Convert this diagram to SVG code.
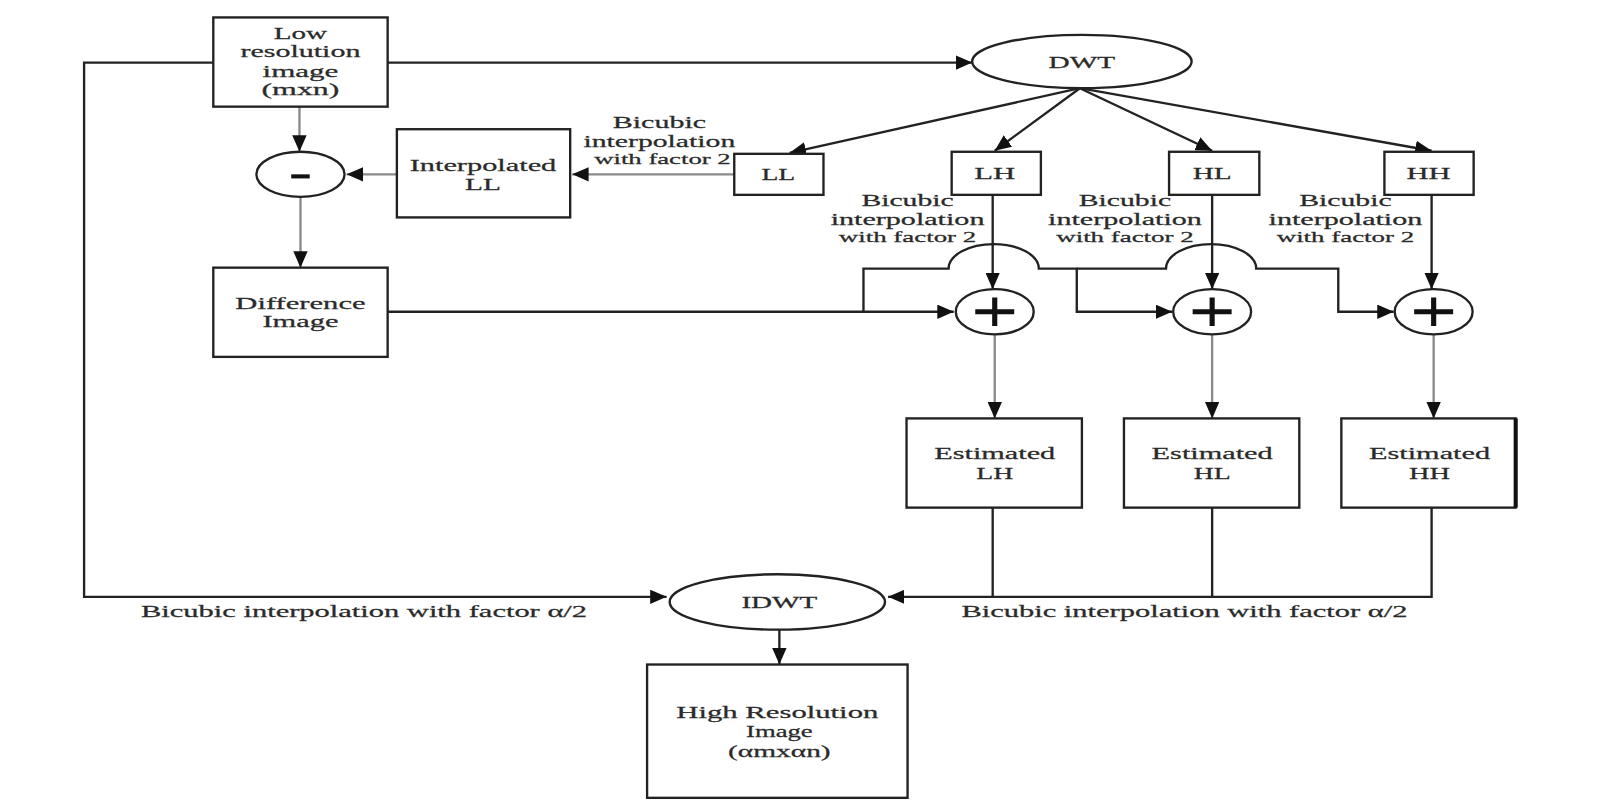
<svg xmlns="http://www.w3.org/2000/svg" width="1608" height="808" viewBox="0 0 1608 808">
<style>
.box{fill:#fff;stroke:#222;stroke-width:2.3}
.ln{fill:none;stroke:#222;stroke-width:2.3}
.gl{fill:none;stroke:#8a8a8a;stroke-width:2.3}
.pl{stroke:#111;stroke-width:5;fill:none}
text{font-family:"Liberation Serif","Times New Roman",serif;font-size:17px;fill:#2a2a2a;text-anchor:middle;stroke:#2a2a2a;stroke-width:0.25}
.sm{font-size:15px}
</style>
<defs>
<marker id="ah" markerUnits="userSpaceOnUse" markerWidth="18" markerHeight="14" refX="16" refY="7" orient="auto">
<path d="M0,0 L16,7 L0,14 Z" fill="#111"/>
</marker>
</defs>
<rect width="1608" height="808" fill="#fff"/>
<g transform="scale(1.0255)">
<g id="connectors">
<path class="ln" d="M208,61 H82 V582 H650" marker-end="url(#ah)"/>
<path class="ln" d="M378,61 H948" marker-end="url(#ah)"/>
<path class="gl" d="M292,104 V148" marker-end="url(#ah)"/>
<path class="gl" d="M716,170 H558" marker-end="url(#ah)"/>
<path class="gl" d="M387,170 H338" marker-end="url(#ah)"/>
<path class="gl" d="M293,192 V261" marker-end="url(#ah)"/>
<path class="ln" d="M1053,86 L770,149" marker-end="url(#ah)"/>
<path class="ln" d="M1053,86 L970,147" marker-end="url(#ah)"/>
<path class="ln" d="M1053,86 L1182,147" marker-end="url(#ah)"/>
<path class="ln" d="M1053,86 L1396,147" marker-end="url(#ah)"/>
<path class="ln" d="M968,190 V282" marker-end="url(#ah)"/>
<path class="ln" d="M1182,190 V282" marker-end="url(#ah)"/>
<path class="ln" d="M1396,190 V282" marker-end="url(#ah)"/>
<path class="ln" d="M378,304 H930" marker-end="url(#ah)"/>
<path class="ln" d="M842,304 V262 H925 A44 24 0 0 1 1013,262 H1050 V304 H1143" marker-end="url(#ah)"/>
<path class="ln" d="M1050,262 H1137 A44 24 0 0 1 1225,262 H1305 V304 H1359" marker-end="url(#ah)"/>
<path class="gl" d="M970,326 V408" marker-end="url(#ah)"/>
<path class="gl" d="M1182,326 V408" marker-end="url(#ah)"/>
<path class="gl" d="M1398,326 V408" marker-end="url(#ah)"/>
<path class="ln" d="M968,495 V582"/>
<path class="ln" d="M1182,495 V582"/>
<path class="ln" d="M1396,495 V582 H866" marker-end="url(#ah)"/>
<path class="ln" d="M760,614 V648" marker-end="url(#ah)"/>
<text x="643" y="125" textLength="91" lengthAdjust="spacingAndGlyphs">Bicubic</text>
<text x="643" y="143" textLength="148" lengthAdjust="spacingAndGlyphs">interpolation</text>
<text class="sm" x="646" y="160" textLength="133" lengthAdjust="spacingAndGlyphs">with factor 2</text>
<text x="885" y="201" textLength="90" lengthAdjust="spacingAndGlyphs">Bicubic</text>
<text x="885" y="219" textLength="150" lengthAdjust="spacingAndGlyphs">interpolation</text>
<text class="sm" x="885" y="236" textLength="134" lengthAdjust="spacingAndGlyphs">with factor 2</text>
<text x="1097" y="201" textLength="90" lengthAdjust="spacingAndGlyphs">Bicubic</text>
<text x="1097" y="219" textLength="150" lengthAdjust="spacingAndGlyphs">interpolation</text>
<text class="sm" x="1097" y="236" textLength="134" lengthAdjust="spacingAndGlyphs">with factor 2</text>
<text x="1312" y="201" textLength="90" lengthAdjust="spacingAndGlyphs">Bicubic</text>
<text x="1312" y="219" textLength="150" lengthAdjust="spacingAndGlyphs">interpolation</text>
<text class="sm" x="1312" y="236" textLength="134" lengthAdjust="spacingAndGlyphs">with factor 2</text>
<text x="355" y="602" textLength="435" lengthAdjust="spacingAndGlyphs">Bicubic interpolation with factor α/2</text>
<text x="1155" y="602" textLength="435" lengthAdjust="spacingAndGlyphs">Bicubic interpolation with factor α/2</text>
</g>
<g id="lowres">
<rect class="box" x="208" y="17" width="170" height="87"/>
<text x="293" y="38" textLength="52" lengthAdjust="spacingAndGlyphs">Low</text>
<text x="293" y="56" textLength="117" lengthAdjust="spacingAndGlyphs">resolution</text>
<text x="293" y="75" textLength="74" lengthAdjust="spacingAndGlyphs">image</text>
<text x="293" y="93" textLength="76" lengthAdjust="spacingAndGlyphs">(mxn)</text>
</g>
<g id="dwt">
<ellipse class="box" cx="1055" cy="60" rx="107" ry="26"/>
<text x="1055" y="66" textLength="65" lengthAdjust="spacingAndGlyphs">DWT</text>
</g>
<g id="minus">
<ellipse class="box" cx="293" cy="170" rx="43" ry="22"/>
<rect x="284" y="170" width="18" height="4" fill="#111"/>
</g>
<g id="interpLL">
<rect class="box" x="387" y="126" width="169" height="86"/>
<text x="471" y="167" textLength="143" lengthAdjust="spacingAndGlyphs">Interpolated</text>
<text x="471" y="185" textLength="35" lengthAdjust="spacingAndGlyphs">LL</text>
</g>
<g id="LL">
<rect class="box" x="716" y="150" width="87" height="40"/>
<text x="759" y="176" textLength="33" lengthAdjust="spacingAndGlyphs">LL</text>
</g>
<g id="LH">
<rect class="box" x="928" y="148" width="87" height="42"/>
<text x="970" y="175" textLength="40" lengthAdjust="spacingAndGlyphs">LH</text>
</g>
<g id="HL">
<rect class="box" x="1140" y="148" width="88" height="42"/>
<text x="1182" y="175" textLength="38" lengthAdjust="spacingAndGlyphs">HL</text>
</g>
<g id="HH">
<rect class="box" x="1350" y="148" width="87" height="42"/>
<text x="1393" y="175" textLength="43" lengthAdjust="spacingAndGlyphs">HH</text>
</g>
<g id="diff">
<rect class="box" x="208" y="261" width="170" height="87"/>
<text x="293" y="301" textLength="127" lengthAdjust="spacingAndGlyphs">Difference</text>
<text x="293" y="319" textLength="74" lengthAdjust="spacingAndGlyphs">Image</text>
</g>
<g id="plus1">
<ellipse class="box" cx="970" cy="304" rx="38" ry="22"/>
<path class="pl" d="M951,304 H989 M970,290 V318"/>
</g>
<g id="plus2">
<ellipse class="box" cx="1182" cy="304" rx="38" ry="22"/>
<path class="pl" d="M1163,304 H1201 M1182,290 V318"/>
</g>
<g id="plus3">
<ellipse class="box" cx="1398" cy="304" rx="38" ry="22"/>
<path class="pl" d="M1379,304 H1417 M1398,290 V318"/>
</g>
<g id="estLH">
<rect class="box" x="884" y="408" width="171" height="87"/>
<text x="970" y="448" textLength="118" lengthAdjust="spacingAndGlyphs">Estimated</text>
<text x="970" y="467" textLength="36" lengthAdjust="spacingAndGlyphs">LH</text>
</g>
<g id="estHL">
<rect class="box" x="1096" y="408" width="171" height="87"/>
<text x="1182" y="448" textLength="118" lengthAdjust="spacingAndGlyphs">Estimated</text>
<text x="1182" y="467" textLength="36" lengthAdjust="spacingAndGlyphs">HL</text>
</g>
<g id="estHH">
<rect class="box" x="1308" y="408" width="170" height="87"/>
<line x1="1478" y1="408" x2="1478" y2="495" stroke="#111" stroke-width="4"/>
<text x="1394" y="448" textLength="118" lengthAdjust="spacingAndGlyphs">Estimated</text>
<text x="1394" y="467" textLength="40" lengthAdjust="spacingAndGlyphs">HH</text>
</g>
<g id="idwt">
<ellipse class="box" cx="758" cy="587" rx="105" ry="27"/>
<text x="760" y="593" textLength="74" lengthAdjust="spacingAndGlyphs">IDWT</text>
</g>
<g id="highres">
<rect class="box" x="631" y="648" width="254" height="130"/>
<text x="758" y="700" textLength="197" lengthAdjust="spacingAndGlyphs">High Resolution</text>
<text x="760" y="719" textLength="65" lengthAdjust="spacingAndGlyphs">Image</text>
<text x="760" y="738" textLength="100" lengthAdjust="spacingAndGlyphs">(αmxαn)</text>
</g>
</g>
</svg>
